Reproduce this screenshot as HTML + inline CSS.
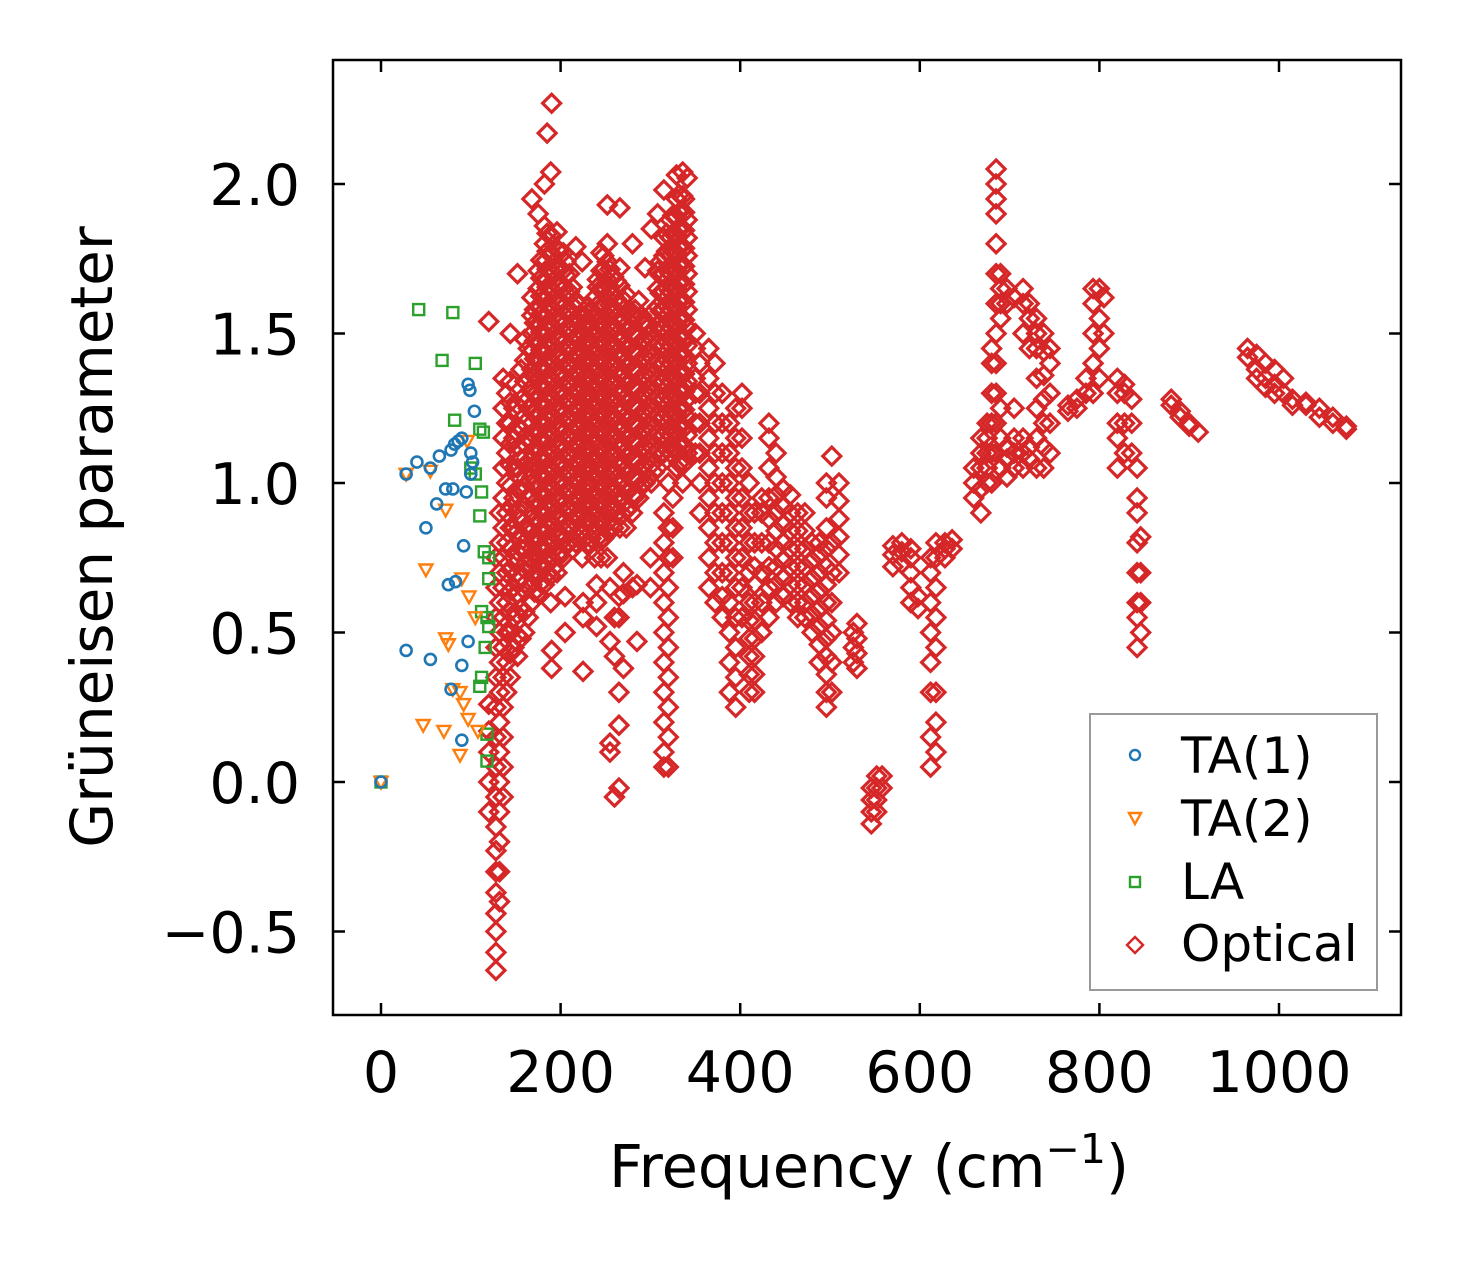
<!DOCTYPE html>
<html><head><meta charset="utf-8"><style>
html,body{margin:0;padding:0;background:#fff;}
svg{display:block;font-family:"DejaVu Sans","Liberation Sans",sans-serif;}
</style></head><body>
<svg id="chart" width="1462" height="1264" viewBox="0 0 1462 1264" xmlns="http://www.w3.org/2000/svg">
<rect x="0" y="0" width="1462" height="1264" fill="#fff"/>
<g id="marks"></g>
<g id="axes"></g>
</svg>
<script>
const xTicks = [0, 200, 400, 600, 800, 1000];
const yTicks = [-0.5, 0.0, 0.5, 1.0, 1.5, 2.0];
const yTickLabels = ["\u22120.5", "0.0", "0.5", "1.0", "1.5", "2.0"];

const ta1Freq = [0,28,40,50,55,62,65,72,75,80,83,78,82,86,90,95,97,99,100,102,104,100,92,90,97,28,55,78,90];
const ta1Gamma = [0,1.03,1.07,0.85,1.05,0.93,1.09,0.98,0.66,0.98,0.67,1.11,1.13,1.14,1.15,0.97,1.33,1.31,1.1,1.07,1.24,1.03,0.79,0.39,0.47,0.44,0.41,0.31,0.14];
const ta2Freq = [0,28,50,55,72,72,75,80,88,92,90,98,105,47,70,88,97,108,96];
const ta2Gamma = [0,1.03,0.71,1.04,0.91,0.48,0.46,0.31,0.30,0.26,0.68,0.62,0.55,0.19,0.17,0.09,0.21,0.17,1.14];
const laFreq = [0,42,80,68,105,82,110,114,105,112,110,115,120,120,112,118,120,116,112,110,118,118,100];
const laGamma = [0,1.58,1.57,1.41,1.40,1.21,1.18,1.17,1.03,0.97,0.89,0.77,0.75,0.68,0.57,0.55,0.52,0.45,0.35,0.32,0.16,0.07,1.05];

const opticalColFreq = [
120,128,136,144,152,160,
168,175,182,189,196,203,210,217,224,231,238,245,252,259,266,273,280,287,294,301,308,315,322,329,336,341,
185,190,205,225,240,255,260,265,270,280,285,300,315,320,325,
350,355,365,372,380,388,395,402,410,416,424,432,440,448,456,464,472,480,488,496,502,510,526,530,
546,552,558,570,580,590,598,612,618,628,636,
660,668,675,680,685,690,697,705,715,722,730,738,745,765,775,785,793,800,805,
820,828,836,842,846,880,890,900,910,965,975,985,995,1005,1015,1030,1045,1060,1075,
171,178,185,192,199,206,213,220,227,234,241,248,255,262,269,276,283,290,297,304,311,318,325,332,338,
132,140,148,156,164];
const opticalColGamma = [
[1.54,0.26,0.17,0.1,0.0,-0.1],
[-0.63,-0.57,-0.5,-0.44,-0.37,-0.3,-0.23,-0.15,-0.05,0.05,0.15,0.25,0.35,0.45,0.55,0.65,0.75],
[-0.05,0.05,0.15,0.25,0.35,0.45,0.55,0.65,0.75,0.85,0.95,1.05,1.15,1.25,1.35],
[0.35,0.43,0.5,0.57,0.64,0.71,0.78,0.85,0.92,0.99,1.06,1.13,1.2,1.27,1.34,1.5],
[0.42,0.49,0.56,0.63,0.7,0.77,0.84,0.91,0.98,1.05,1.12,1.19,1.26,1.7],
[0.5,0.57,0.64,0.71,0.78,0.85,0.92,0.99,1.06,1.13,1.2,1.27,1.34,1.41,1.48],
[0.6,0.66,0.72,0.78,0.84,0.9,0.96,1.02,1.08,1.14,1.2,1.26,1.32,1.38,1.44,1.5,1.56,1.62,1.95],
[0.63,0.69,0.75,0.81,0.87,0.93,0.99,1.05,1.11,1.17,1.23,1.29,1.35,1.41,1.47,1.53,1.59,1.65,1.71,1.9],
[0.66,0.72,0.78,0.84,0.9,0.96,1.02,1.08,1.14,1.2,1.26,1.32,1.38,1.44,1.5,1.56,1.62,1.68,1.74,1.8,1.86,2.0],
[0.6,0.69,0.75,0.81,0.87,0.93,0.99,1.05,1.11,1.17,1.23,1.29,1.35,1.41,1.47,1.53,1.59,1.65,1.71,1.77,1.83,2.04],
[0.7,0.76,0.82,0.88,0.94,1.0,1.06,1.12,1.18,1.24,1.3,1.36,1.42,1.48,1.54,1.6,1.66,1.72,1.78,1.84],
[0.75,0.81,0.87,0.93,0.99,1.05,1.11,1.17,1.23,1.29,1.35,1.41,1.47,1.53,1.59,1.65,1.71,1.77],
[0.8,0.86,0.92,0.98,1.04,1.1,1.16,1.22,1.28,1.34,1.4,1.46,1.52,1.58,1.64,1.7],
[0.8,0.89,0.95,1.01,1.07,1.13,1.19,1.25,1.31,1.37,1.43,1.49,1.55,1.61,1.79],
[0.75,0.84,0.9,0.96,1.02,1.08,1.14,1.2,1.26,1.32,1.38,1.44,1.5,1.56,1.74],
[0.8,0.87,0.93,0.99,1.05,1.11,1.17,1.23,1.29,1.35,1.41,1.47,1.53,1.59],
[0.75,0.84,0.9,0.96,1.02,1.08,1.14,1.2,1.26,1.32,1.38,1.44,1.5,1.56,1.62],
[0.75,0.81,0.87,0.93,0.99,1.05,1.11,1.17,1.23,1.29,1.35,1.41,1.47,1.53,1.59,1.65,1.71,1.77],
[0.75,0.84,0.9,0.96,1.02,1.08,1.14,1.2,1.26,1.32,1.38,1.44,1.5,1.56,1.62,1.68,1.74,1.8,1.93],
[0.85,0.91,0.97,1.03,1.09,1.15,1.21,1.27,1.33,1.39,1.45,1.51,1.57,1.63,1.69],
[0.85,0.94,1.0,1.06,1.12,1.18,1.24,1.3,1.36,1.42,1.48,1.54,1.6,1.66,1.72,1.92],
[0.85,0.91,0.97,1.03,1.09,1.15,1.21,1.27,1.33,1.39,1.45,1.51,1.57,1.63],
[0.9,0.96,1.02,1.08,1.14,1.2,1.26,1.32,1.38,1.44,1.5,1.56,1.8],
[0.95,1.01,1.07,1.13,1.19,1.25,1.31,1.37,1.43,1.49,1.55,1.61],
[1.0,1.06,1.12,1.18,1.24,1.3,1.36,1.42,1.48,1.54,1.72],
[1.0,1.06,1.12,1.18,1.24,1.3,1.36,1.42,1.48,1.85],
[1.05,1.11,1.17,1.23,1.29,1.35,1.41,1.47,1.53,1.59,1.65,1.71,1.9],
[1.1,1.16,1.22,1.28,1.34,1.4,1.46,1.52,1.58,1.64,1.7,1.76,1.82,1.98],
[1.1,1.16,1.22,1.28,1.34,1.4,1.46,1.52,1.58,1.64,1.7,1.76,1.82,1.88],
[1.05,1.11,1.17,1.23,1.29,1.35,1.41,1.47,1.53,1.59,1.65,1.71,1.77,1.83,1.89,1.95,2.03],
[1.0,1.06,1.12,1.18,1.24,1.3,1.36,1.42,1.48,1.54,1.6,1.66,1.72,1.78,1.84,1.9,1.96,2.04],
[1.1,1.16,1.22,1.28,1.34,1.4,1.46,1.52,1.58,1.64,1.7,1.76,1.82,1.88,2.02],
[2.17],[2.27,0.44,0.38],[0.5,0.62],[0.37,0.55,0.6],[0.52,0.6,0.66],[0.47,0.1,0.13,0.65],[-0.05,0.42,0.55],[-0.02,0.19,0.3,0.55,0.62],[0.38,0.63,0.7],[0.65],[0.47,0.66],[0.65,0.75],
[0.05,0.1,0.2,0.3,0.4,0.5,0.6,0.7,0.8,0.9],[0.05,0.15,0.25,0.35,0.45,0.55,0.65,0.75,0.85,1.0],[0.85,0.75,0.95],
[1.1,1.2,1.3,1.35,1.45,1.5],[0.9,1.0,1.1,1.2,1.3,1.4],
[0.65,0.75,0.85,0.95,1.05,1.15,1.25,1.35,1.45],[0.6,0.7,0.8,0.9,1.0,1.1,1.2,1.3,1.4],
[0.55,0.62,0.7,0.8,0.9,1.0,1.1,1.2,1.3],[0.3,0.4,0.5,0.6,0.7,0.8,0.9,1.0,1.1,1.2],
[0.25,0.35,0.45,0.55,0.65,0.75,0.85,0.95,1.05,1.15,1.25],[0.55,0.65,0.75,0.85,0.95,1.05,1.15,1.25,1.3],
[0.3,0.36,0.42,0.48,0.54,0.6,0.7,0.8,0.9,1.0],[0.3,0.36,0.42,0.48,0.54,0.6,0.66,0.72,0.8,0.9],
[0.5,0.6,0.7,0.8,0.9,0.95],[0.55,0.65,0.72,0.8,0.88,0.95,1.05,1.15,1.2],[0.6,0.66,0.72,0.78,0.84,0.9,0.96,1.02,1.1],
[0.62,0.68,0.74,0.8,0.86,0.92,0.98],[0.6,0.66,0.72,0.78,0.84,0.9,0.96],[0.55,0.6,0.66,0.72,0.78,0.84,0.9],
[0.55,0.6,0.66,0.72,0.78,0.84,0.9],[0.5,0.56,0.62,0.68,0.74,0.8],[0.4,0.46,0.52,0.58,0.64,0.7,0.76,0.8],
[0.25,0.3,0.36,0.42,0.48,0.54,0.6,0.66,0.72,0.78,0.85,0.95,1.0],[0.3,0.4,0.5,0.6,0.7,0.8,1.09],
[0.7,0.76,0.82,0.88,0.94,1.0],[0.4,0.45,0.5],[0.38,0.43,0.48,0.53],
[-0.14,-0.1,-0.06,-0.02],[-0.1,-0.06,-0.02,0.02],[-0.02,0.02],
[0.72,0.76,0.79],[0.73,0.77,0.8],[0.6,0.65,0.7,0.75,0.78],[0.58,0.62],
[0.05,0.15,0.3,0.4,0.5,0.6,0.7,0.75],[0.1,0.2,0.3,0.45,0.55,0.65,0.75,0.8],[0.75,0.78,0.8],[0.78,0.81],
[0.95,1.0,1.05],[0.9,0.98,1.05,1.1,1.15],[1.0,1.05,1.1,1.15,1.2],[1.0,1.1,1.2,1.3,1.4,1.45],
[1.1,1.2,1.3,1.4,1.5,1.6,1.7,1.8,1.9,1.95,2.0,2.05],[1.05,1.15,1.25,1.55,1.6,1.65,1.7],
[1.02,1.08,1.12,1.6,1.65],[1.05,1.1,1.15,1.25,1.62],[1.05,1.1,1.15,1.5,1.6,1.65],[1.08,1.12,1.45,1.55,1.6],
[1.05,1.15,1.25,1.35,1.45,1.5,1.55],[1.05,1.12,1.2,1.28,1.36,1.44,1.5],[1.1,1.2,1.3,1.4,1.45],
[1.24,1.26],[1.25,1.28],[1.3,1.35],[1.3,1.4,1.5,1.6,1.65],[1.35,1.45,1.55,1.65],[1.5,1.62],
[1.05,1.15,1.2,1.3,1.35],[1.1,1.2,1.3,1.33],[1.1,1.2,1.28],[0.45,0.55,0.6,0.7,0.8,0.9,0.95,1.05],[0.5,0.6,0.7,0.82],
[1.28,1.26],[1.24,1.22],[1.2,1.19],[1.17],
[1.45,1.42],[1.43,1.38,1.35],[1.4,1.35,1.32],[1.38,1.33,1.3],[1.35,1.3],[1.26,1.28],[1.26,1.27],[1.25,1.22],[1.22,1.2],[1.19,1.18],
[0.635,0.695,0.755,0.815,0.875,0.935,0.995,1.055,1.115,1.175,1.235,1.295,1.355,1.415,1.475,1.535,1.58],
[0.665,0.725,0.785,0.845,0.905,0.965,1.025,1.085,1.145,1.205,1.265,1.325,1.385,1.445,1.505,1.565,1.625,1.685,1.745],
[0.695,0.755,0.815,0.875,0.935,0.995,1.055,1.115,1.175,1.235,1.295,1.355,1.415,1.475,1.535,1.595,1.655,1.715,1.775,1.835],
[0.715,0.775,0.835,0.895,0.955,1.015,1.075,1.135,1.195,1.255,1.315,1.375,1.435,1.495,1.555,1.615,1.675,1.735,1.795],
[0.755,0.815,0.875,0.935,0.995,1.055,1.115,1.175,1.235,1.295,1.355,1.415,1.475,1.535,1.595,1.655,1.715,1.775],
[0.795,0.855,0.915,0.975,1.035,1.095,1.155,1.215,1.275,1.335,1.395,1.455,1.515,1.575,1.635,1.695,1.74],
[0.815,0.875,0.935,0.995,1.055,1.115,1.175,1.235,1.295,1.355,1.415,1.475,1.535,1.595,1.655],
[0.815,0.875,0.935,0.995,1.055,1.115,1.175,1.235,1.295,1.355,1.415,1.475,1.535,1.595],
[0.815,0.875,0.935,0.995,1.055,1.115,1.175,1.235,1.295,1.355,1.415,1.475,1.535,1.56],
[0.815,0.875,0.935,0.995,1.055,1.115,1.175,1.235,1.295,1.355,1.415,1.475,1.535,1.58],
[0.815,0.875,0.935,0.995,1.055,1.115,1.175,1.235,1.295,1.355,1.415,1.475,1.535,1.595,1.655,1.68],
[0.815,0.875,0.935,0.995,1.055,1.115,1.175,1.235,1.295,1.355,1.415,1.475,1.535,1.595,1.655,1.715,1.76],
[0.875,0.935,0.995,1.055,1.115,1.175,1.235,1.295,1.355,1.415,1.475,1.535,1.595,1.655,1.715],
[0.895,0.955,1.015,1.075,1.135,1.195,1.255,1.315,1.375,1.435,1.495,1.555,1.615,1.675],
[0.895,0.955,1.015,1.075,1.135,1.195,1.255,1.315,1.375,1.435,1.495,1.555,1.615],
[0.915,0.975,1.035,1.095,1.155,1.215,1.275,1.335,1.395,1.455,1.515,1.575],
[0.955,1.015,1.075,1.135,1.195,1.255,1.315,1.375,1.435,1.495,1.555,1.58],
[0.995,1.055,1.115,1.175,1.235,1.295,1.355,1.415,1.475,1.535,1.56],
[1.015,1.075,1.135,1.195,1.255,1.315,1.375,1.435,1.495,1.52],
[1.035,1.095,1.155,1.215,1.275,1.335,1.395,1.455,1.515,1.575],
[1.095,1.155,1.215,1.275,1.335,1.395,1.455,1.515,1.575,1.635,1.695,1.74],
[1.115,1.175,1.235,1.295,1.355,1.415,1.475,1.535,1.595,1.655,1.715,1.775,1.835],
[1.115,1.175,1.235,1.295,1.355,1.415,1.475,1.535,1.595,1.655,1.715,1.775,1.835,1.895],
[1.065,1.125,1.185,1.245,1.305,1.365,1.425,1.485,1.545,1.605,1.665,1.725,1.785,1.845,1.905,1.965],
[1.065,1.125,1.185,1.245,1.305,1.365,1.425,1.485,1.545,1.605,1.665,1.725,1.785,1.845,1.905,1.95],
[-0.4,-0.3,-0.2,-0.1,0.0,0.1,0.2,0.3,0.4,0.5,0.6,0.7,0.8,0.9],
[0.3,0.4,0.5,0.6,0.7,0.8,0.9,1.0,1.1,1.2,1.3],
[0.45,0.55,0.65,0.75,0.85,0.95,1.05,1.15,1.25],
[0.48,0.58,0.68,0.78,0.88,0.98,1.08,1.18,1.28,1.38],
[0.55,0.65,0.75,0.85,0.95,1.05,1.15,1.25,1.35,1.45]
];

const NS = "http://www.w3.org/2000/svg";
const PL = 333, PR = 1401, PT = 60, PB = 1015;
function xScale(f){ return 381 + f * 0.898; }
function yScale(g){ return 782 - g * 299; }
const marks = document.getElementById('marks');
const axes = document.getElementById('axes');
function mk(tag, attrs, parent){ const e = document.createElementNS(NS, tag); for (const k in attrs) e.setAttribute(k, attrs[k]); parent.appendChild(e); return e; }

function diamond(cx, cy, s){ return `M${cx},${cy-s} L${cx+s},${cy} L${cx},${cy+s} L${cx-s},${cy} Z`; }
function tri(cx, cy, s){ return `M${cx-s},${cy-s*0.8} L${cx+s},${cy-s*0.8} L${cx},${cy+s} Z`; }

const og = mk('g', {fill:'none', stroke:'#d62728', 'stroke-width':3.2}, marks);


opticalColFreq.forEach((f, i) => {
  opticalColGamma[i].forEach(g => {
    const p = mk('path', {d: diamond(xScale(f), yScale(g), 9)}, og);
    
    
  });
});
const lg = mk('g', {fill:'none', stroke:'#2ca02c', 'stroke-width':2.4}, marks);


laFreq.forEach((f, i) => {
  const r = mk('rect', {x: xScale(f)-5.5, y: yScale(laGamma[i])-5.5, width:11, height:11}, lg);
  
  
});
const t2 = mk('g', {fill:'none', stroke:'#ff7f0e', 'stroke-width':2.4}, marks);


ta2Freq.forEach((f, i) => {
  const p = mk('path', {d: tri(xScale(f), yScale(ta2Gamma[i]), 6.5)}, t2);
  
  
});
const t1 = mk('g', {fill:'none', stroke:'#1f77b4', 'stroke-width':2.6}, marks);


ta1Freq.forEach((f, i) => {
  const c = mk('circle', {cx: xScale(f), cy: yScale(ta1Gamma[i]), r:5.5}, t1);
  
  
});

const frame = mk('rect', {x:PL, y:PT, width:PR-PL, height:PB-PT, fill:'none', stroke:'#000', 'stroke-width':2.5}, axes);


xTicks.forEach(t => {
  const x = xScale(t);
  mk('line', {x1:x, x2:x, y1:PB, y2:PB-12, stroke:'#000', 'stroke-width':2.5}, axes);
  mk('line', {x1:x, x2:x, y1:PT, y2:PT+12, stroke:'#000', 'stroke-width':2.5}, axes);
  const tx = mk('text', {x:x, y:1092, 'font-size':57, 'text-anchor':'middle', fill:'#000'}, axes);
  tx.textContent = String(t);
  
  
});
yTicks.forEach((t, i) => {
  const y = yScale(t);
  mk('line', {x1:PL, x2:PL+12, y1:y, y2:y, stroke:'#000', 'stroke-width':2.5}, axes);
  mk('line', {x1:PR, x2:PR-12, y1:y, y2:y, stroke:'#000', 'stroke-width':2.5}, axes);
  const tx = mk('text', {x:300, y:y+21, 'font-size':57, 'text-anchor':'end', fill:'#000'}, axes);
  tx.textContent = yTickLabels[i];
  
  
});
</script>
<svg style="position:absolute;left:0;top:0" width="1462" height="1264" xmlns="http://www.w3.org/2000/svg">
<text x="869" y="1187" font-size="59" text-anchor="middle" font-family="DejaVu Sans, Liberation Sans, sans-serif">Frequency (cm<tspan dy="-24" font-size="41">−1</tspan><tspan dy="24">)</tspan></text>
<text transform="translate(112,537) rotate(-90)" font-size="58" text-anchor="middle" font-family="DejaVu Sans, Liberation Sans, sans-serif">Grüneisen parameter</text>
<g font-family="DejaVu Sans, Liberation Sans, sans-serif" font-size="50">
<rect x="1090" y="714" width="287" height="276" fill="#fff" stroke="#999" stroke-width="2"/>
<g><circle cx="1135" cy="755" r="5" fill="none" stroke="#1f77b4" stroke-width="2.4"/><text x="1181" y="773">TA(1)</text></g>
<g><path d="M1129,813 L1141,813 L1135,824 Z" fill="none" stroke="#ff7f0e" stroke-width="2.4"/><text x="1181" y="836">TA(2)</text></g>
<g><rect x="1130" y="877" width="10" height="10" fill="none" stroke="#2ca02c" stroke-width="2.4"/><text x="1181" y="899">LA</text></g>
<g><path d="M1135,937 L1143,945 L1135,953 L1127,945 Z" fill="none" stroke="#d62728" stroke-width="2.4"/><text x="1181" y="961">Optical</text></g>
</g>
</svg>
</body></html>
